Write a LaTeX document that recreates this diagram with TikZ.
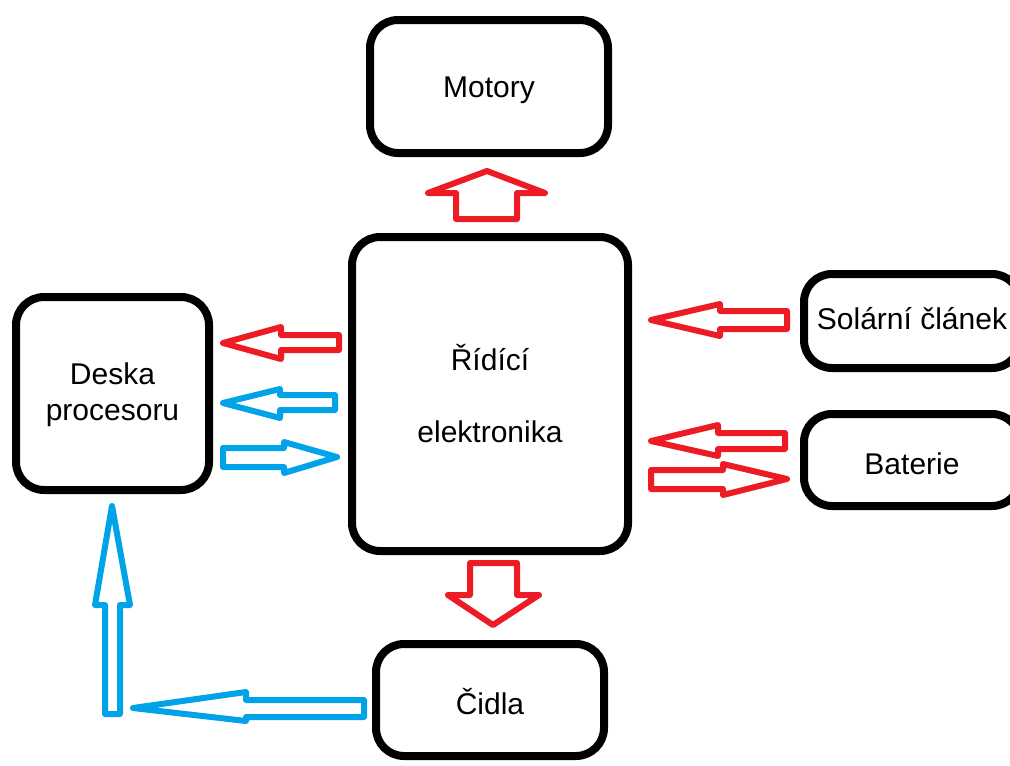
\documentclass[tikz,border=0pt]{standalone}
\usepackage{fontspec}
\setmainfont{Liberation Sans}
\definecolor{paintred}{RGB}{237,28,36}
\definecolor{paintblue}{RGB}{0,162,232}
\newcommand{\lowertext}[2]{\raisebox{#1}[\height][\depth]{#2}}
\begin{document}
\begin{tikzpicture}[x=1pt,y=-1pt,
  box/.style={draw=black,line width=8pt,rounded corners=28pt,inner sep=0pt,
    font=\fontsize{30}{36}\selectfont,align=center},
  redarrow/.style={draw=paintred,line width=6pt,line join=round},
  bluearrow/.style={draw=paintblue,line width=6pt,line join=round}]
\useasboundingbox (0,0) rectangle (1010,766);
\begin{scope}
\clip (0,0) rectangle (1010,766);
\node[box,minimum width=238pt,minimum height=133pt] (motory) at (489,86.5) {\lowertext{-4pt}{Motory}};
\node[box,minimum width=276pt,minimum height=314pt,font=\fontsize{30}{72}\selectfont] (ridici) at (490,394) {Řídící\\elektronika};
\node[box,minimum width=193pt,minimum height=193pt] (deska) at (112.5,393.5) {\lowertext{-1pt}{Deska}\\\lowertext{-1pt}{procesoru}};
\node[box,minimum width=216pt,minimum height=94pt] (solar) at (912,321) {\lowertext{2pt}{Solární článek}};
\node[box,minimum width=216pt,minimum height=92pt] (baterie) at (912,460) {\lowertext{-4pt}{Baterie}};
\node[box,minimum width=228pt,minimum height=112pt] (cidla) at (490,700) {\lowertext{-2pt}{Čidla}};
\end{scope}
% ridici -> motory
\draw[redarrow] (456,219) -- (456,193) -- (428,193) -- (487,171) -- (545,193) -- (517,193) -- (517,219) -- cycle;
% ridici -> cidla
\draw[redarrow] (470,563) -- (517,563) -- (517,595) -- (539,595) -- (493,625) -- (448,595) -- (470,595) -- cycle;
% ridici -> deska (red)
\draw[redarrow] (223,343) -- (281,327) -- (281,335) -- (339,335) -- (339,350) -- (281,350) -- (281,359) -- cycle;
% ridici -> deska (blue)
\draw[bluearrow] (223,403) -- (280,389) -- (280,395) -- (335,395) -- (335,410) -- (280,410) -- (280,418) -- cycle;
% deska -> ridici (blue)
\draw[bluearrow] (223,448) -- (284,448) -- (284,442) -- (337,457) -- (284,473) -- (284,467) -- (223,467) -- cycle;
% solar -> ridici
\draw[redarrow] (651,320) -- (720,304) -- (720,311) -- (787,311) -- (787,329) -- (720,329) -- (720,336) -- cycle;
% baterie -> ridici
\draw[redarrow] (651,441) -- (718,425) -- (718,433) -- (785,433) -- (785,449) -- (718,449) -- (718,456) -- cycle;
% ridici -> baterie
\draw[redarrow] (651,470) -- (723,470) -- (723,464) -- (787,479) -- (723,495) -- (723,489) -- (651,489) -- cycle;
% cidla -> deska (up part)
\draw[bluearrow] (112,506) -- (130,605) -- (120,605) -- (120,714) -- (105,714) -- (105,605) -- (95,605) -- cycle;
% cidla -> deska (left part)
\draw[bluearrow] (133,708) -- (246,692) -- (246,700) -- (364,700) -- (364,717) -- (246,717) -- (246,721) -- cycle;
\end{tikzpicture}
\end{document}
